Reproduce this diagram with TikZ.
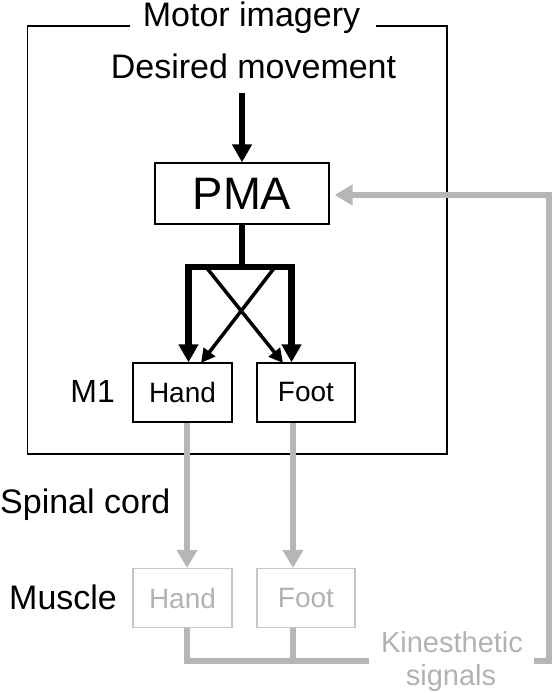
\documentclass[tikz,border=0pt]{standalone}
\usepackage{fontspec}
\setmainfont{Liberation Sans}
\usetikzlibrary{arrows.meta,calc}
\definecolor{lgray}{RGB}{182,182,184}
\definecolor{bgray}{RGB}{198,198,198}
\definecolor{tgray}{RGB}{178,178,178}
\begin{document}
\begin{tikzpicture}[x=1pt,y=-1pt,
  lbl/.style={inner sep=0pt, font=\fontsize{34}{34}\selectfont},
  glbl/.style={inner sep=0pt, text=tgray, font=\fontsize{29}{29}\selectfont},
  box/.style={draw=black, line width=1.3pt, minimum width=99pt, minimum height=59pt, inner sep=0pt, font=\fontsize{28}{28}\selectfont},
  gbox/.style={box, draw=bgray, text=tgray},
  frame/.style={draw=black, line width=1.3pt},
  bigarrow/.style={line width=6.5pt, line join=miter, -{Triangle[length=18pt,width=19pt]}},
  thickline/.style={line width=6.5pt, line join=miter},
  crossarrow/.style={line width=3.5pt, -{Triangle[length=14pt,width=14pt]}},
  garrow/.style={draw=lgray, line width=6.5pt, line join=miter, -{Triangle[length=18pt,width=20pt]}},
  gline/.style={draw=lgray, line width=6.5pt, line join=miter}
]
\useasboundingbox (0,0) rectangle (553,693);

% texts
\node[lbl, anchor=base] (title) at (251.5,26.5) {Motor imagery};
\node[lbl, anchor=base] (desired) at (253.5,78) {Desired movement};
\node[lbl, anchor=base east, font=\fontsize{32}{32}\selectfont] (m1) at (115,402) {M1};
\node[lbl, anchor=base west] (spinal) at (0,513) {Spinal cord};
\node[lbl, anchor=base west] (muscle) at (9,609) {Muscle};
\node[glbl, anchor=base] (kin) at (452,652) {Kinesthetic};
\node[glbl, anchor=base] (sig) at (451,685) {signals};

% boxes
\node[box, minimum width=174pt, minimum height=61pt, font=\fontsize{45.5}{45.5}\selectfont] (pma) at (242,193.5) {PMA};
\node[box] (hand) at (182.5,392.5) {Hand};
\node[box, minimum width=98pt] (foot) at (306,392.5) {Foot};
\node[gbox] (mhand) at (182.5,598) {Hand};
\node[gbox, minimum width=98pt] (mfoot) at (306,598) {Foot};

% frame
\draw[frame] (130,26) -| (27.5,454) -| (447,26) -- (376,26);

% coordinates
\coordinate (top) at (242,93);
\coordinate (bar) at (242,267);
\coordinate (hx) at (188.5,0);
\coordinate (fx) at (291.5,0);
\coordinate (c1s) at (206,267);
\coordinate (c1e) at (283,363);
\coordinate (c2s) at (275,267);
\coordinate (c2e) at (201,363);
\coordinate (ghx) at (187,0);
\coordinate (gfx) at (293,0);
\coordinate (bot) at (0,661);
\coordinate (kl) at (369,661);
\coordinate (kr) at (534,661);
\coordinate (fb) at (549,195);

% black arrows
\draw[bigarrow] (top) -- (pma.north);
\draw[thickline] (pma.south) -- (bar);
\draw[bigarrow] (bar) -| (hand.north -| hx);
\draw[bigarrow] (bar) -| (foot.north -| fx);
\draw[crossarrow] (c1s) -- (c1e);
\draw[crossarrow] (c2s) -- (c2e);

% grey arrows
\draw[garrow] (hand.south -| ghx) -- (mhand.north -| ghx);
\draw[garrow] (foot.south -| gfx) -- (mfoot.north -| gfx);
\draw[gline] (mhand.south -| ghx) |- (kl);
\draw[gline] (mfoot.south -| gfx) -- (gfx |- bot);
\draw[garrow, shorten >=5pt] (kr) -| (fb) -- (pma.east |- fb);
\end{tikzpicture}
\end{document}
